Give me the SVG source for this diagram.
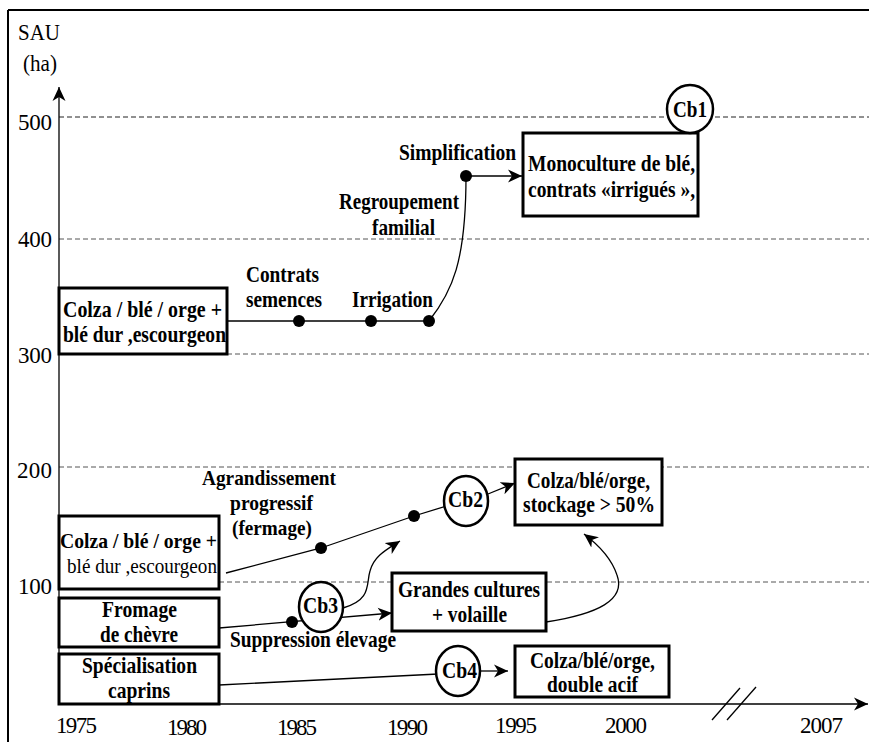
<svg xmlns="http://www.w3.org/2000/svg" width="869" height="742" viewBox="0 0 869 742" font-family="Liberation Serif, serif">
<style>
text{fill:#000}
.b{font-weight:bold;font-size:24px}
.s{font-size:22px}
.r{font-size:22px}
.ax{font-size:23px}
.box{fill:#fff;stroke:#000;stroke-width:3}
.cir{fill:#fff;stroke:#000;stroke-width:2.5}
.grid{stroke:#555;stroke-width:1;stroke-dasharray:5 3;fill:none}
.ln{stroke:#000;stroke-width:1.3;fill:none}
.dot{fill:#000}
</style>
<defs>
<marker id="arr" markerUnits="userSpaceOnUse" markerWidth="16" markerHeight="14" refX="14" refY="7" orient="auto">
<path d="M0,0.5 L14,7 L0,13.5 L4,7 z" fill="#000"/>
</marker>
</defs>
<g id="frame">
<line x1="8" y1="10" x2="8" y2="742" stroke="#000" stroke-width="2"/>
<line x1="8" y1="10" x2="869" y2="10" stroke="#000" stroke-width="2"/>
</g>
<g id="grid">
<line class="grid" x1="59" y1="117" x2="869" y2="117" style="stroke:#222"/>
<line class="grid" x1="59" y1="239" x2="869" y2="239"/>
<line class="grid" x1="59" y1="354" x2="869" y2="354"/>
<line class="grid" x1="59" y1="467" x2="869" y2="467"/>
<line class="grid" x1="59" y1="582" x2="869" y2="582"/>
</g>
<g id="axes">
<line class="ln" x1="59" y1="704" x2="59" y2="87" marker-end="url(#arr)"/>
<line class="ln" x1="59" y1="704" x2="868" y2="704" marker-end="url(#arr)"/>
<line class="ln" x1="712" y1="720" x2="740" y2="688"/>
<line class="ln" x1="727" y1="720" x2="756" y2="687"/>
<text class="ax" x="18" y="40" textLength="42" lengthAdjust="spacingAndGlyphs">SAU</text>
<text class="ax" x="23" y="71" textLength="34" lengthAdjust="spacingAndGlyphs">(ha)</text>
<text class="ax" x="18" y="130" textLength="34">500</text>
<text class="ax" x="18" y="247" textLength="34">400</text>
<text class="ax" x="18" y="363" textLength="34">300</text>
<text class="ax" x="17" y="478" textLength="35">200</text>
<text class="ax" x="18" y="594" textLength="34">100</text>
<text class="ax" x="56" y="733" textLength="41">1975</text>
<text class="ax" x="167" y="735" textLength="40">1980</text>
<text class="ax" x="277" y="735" textLength="40">1985</text>
<text class="ax" x="387" y="735" textLength="41">1990</text>
<text class="ax" x="495" y="733" textLength="42">1995</text>
<text class="ax" x="605" y="733" textLength="42">2000</text>
<text class="ax" x="800" y="733" textLength="43">2007</text>
</g>
<g id="connectors">
<line class="ln" x1="227" y1="321" x2="429" y2="321"/>
<path class="ln" d="M429,321 C452,292 466,262 466,176"/>
<line class="ln" x1="466" y1="176" x2="522" y2="176" marker-end="url(#arr)"/>
<polyline class="ln" points="226,573 321,548 414,516 466,500"/>
<line class="ln" x1="488" y1="494" x2="515" y2="483" marker-end="url(#arr)"/>
<line class="ln" x1="219" y1="628" x2="392" y2="613" marker-end="url(#arr)"/>
<path class="ln" d="M343,608 C372,600 366,584 370,571 C374,556 386,550 400,541" marker-end="url(#arr)"/>
<path class="ln" d="M546,622 C598,614 626,600 617,575 C612,560 600,546 584,534" marker-end="url(#arr)"/>
<line class="ln" x1="219" y1="685" x2="458" y2="673"/>
<line class="ln" x1="480" y1="671" x2="508" y2="671" marker-end="url(#arr)"/>
<circle class="dot" cx="299" cy="321" r="6"/>
<circle class="dot" cx="371" cy="321" r="6"/>
<circle class="dot" cx="429" cy="321" r="6"/>
<circle class="dot" cx="466" cy="176" r="6"/>
<circle class="dot" cx="321" cy="548" r="6"/>
<circle class="dot" cx="414" cy="516" r="6"/>
<circle class="dot" cx="292" cy="622" r="6"/>
</g>
<g id="labels">
<text class="b" x="399" y="160" textLength="117" lengthAdjust="spacingAndGlyphs">Simplification</text>
<text class="b" x="339" y="209" textLength="120" lengthAdjust="spacingAndGlyphs">Regroupement</text>
<text class="b" x="372" y="235" textLength="63" lengthAdjust="spacingAndGlyphs">familial</text>
<text class="b" x="246" y="282" textLength="73" lengthAdjust="spacingAndGlyphs">Contrats</text>
<text class="b" x="246" y="307" textLength="76" lengthAdjust="spacingAndGlyphs">semences</text>
<text class="b" x="352" y="307" textLength="81" lengthAdjust="spacingAndGlyphs">Irrigation</text>
<text class="b s" x="202" y="485" textLength="134" lengthAdjust="spacingAndGlyphs">Agrandissement</text>
<text class="b s" x="230" y="510" textLength="83" lengthAdjust="spacingAndGlyphs">progressif</text>
<text class="b s" x="232" y="535" textLength="80" lengthAdjust="spacingAndGlyphs">(fermage)</text>
<text class="b" x="230" y="647" textLength="166" lengthAdjust="spacingAndGlyphs">Suppression élevage</text>
</g>
<g id="node-colza-300">
<rect class="box" x="59" y="288" width="168" height="66"/>
<text class="b" x="63" y="317" textLength="159" lengthAdjust="spacingAndGlyphs">Colza / blé / orge  +</text>
<text class="b" x="63" y="342" textLength="163" lengthAdjust="spacingAndGlyphs">blé dur ,escourgeon</text>
</g>
<g id="node-monoculture">
<rect class="box" x="523" y="133" width="175" height="83"/>
<text class="b" x="528" y="171" textLength="167" lengthAdjust="spacingAndGlyphs">Monoculture de blé,</text>
<text class="b" x="528" y="197" textLength="167" lengthAdjust="spacingAndGlyphs">contrats «irrigués »,</text>
</g>
<g id="node-cb1">
<ellipse class="cir" cx="690" cy="109" rx="23" ry="24"/>
<text class="b" x="673" y="117" textLength="34" lengthAdjust="spacingAndGlyphs">Cb1</text>
</g>
<g id="node-colza-100">
<rect class="box" x="59" y="516" width="160" height="73"/>
<text class="b s" x="60" y="548" textLength="157" lengthAdjust="spacingAndGlyphs">Colza / blé / orge  +</text>
<text class="r" x="67" y="573" textLength="150" lengthAdjust="spacingAndGlyphs">blé dur ,escourgeon</text>
</g>
<g id="node-fromage">
<rect class="box" x="59" y="598" width="160" height="49"/>
<text class="b" x="102" y="617" textLength="75" lengthAdjust="spacingAndGlyphs">Fromage</text>
<text class="b" x="100" y="642" textLength="78" lengthAdjust="spacingAndGlyphs">de chèvre</text>
</g>
<g id="node-specialisation">
<rect class="box" x="59" y="654" width="160" height="50"/>
<text class="b" x="82" y="673" textLength="115" lengthAdjust="spacingAndGlyphs">Spécialisation</text>
<text class="b" x="108" y="698" textLength="62" lengthAdjust="spacingAndGlyphs">caprins</text>
</g>
<g id="node-stockage">
<rect class="box" x="515" y="459" width="147" height="66"/>
<text class="b" x="527" y="488" textLength="123" lengthAdjust="spacingAndGlyphs">Colza/blé/orge,</text>
<text class="b" x="523" y="512" textLength="132" lengthAdjust="spacingAndGlyphs">stockage &gt; 50%</text>
</g>
<g id="node-grandes-cultures">
<rect class="box" x="392" y="573" width="154" height="58"/>
<text class="b" x="398" y="597" textLength="142" lengthAdjust="spacingAndGlyphs">Grandes cultures</text>
<text class="b" x="432" y="622" textLength="75" lengthAdjust="spacingAndGlyphs">+ volaille</text>
</g>
<g id="node-double-actif">
<rect class="box" x="515" y="646" width="154" height="51"/>
<text class="b" x="530" y="668" textLength="125" lengthAdjust="spacingAndGlyphs">Colza/blé/orge,</text>
<text class="b" x="547" y="692" textLength="91" lengthAdjust="spacingAndGlyphs">double acif</text>
</g>
<g id="node-cb2">
<ellipse class="cir" cx="466" cy="501" rx="22" ry="25"/>
<text class="b" x="448" y="507" textLength="35" lengthAdjust="spacingAndGlyphs">Cb2</text>
</g>
<g id="node-cb3">
<ellipse class="cir" cx="321" cy="607" rx="22" ry="25"/>
<text class="b" x="303" y="613" textLength="35" lengthAdjust="spacingAndGlyphs">Cb3</text>
</g>
<g id="node-cb4">
<ellipse class="cir" cx="458" cy="671" rx="22" ry="25"/>
<text class="b" x="442" y="678" textLength="35" lengthAdjust="spacingAndGlyphs">Cb4</text>
</g>
</svg>
